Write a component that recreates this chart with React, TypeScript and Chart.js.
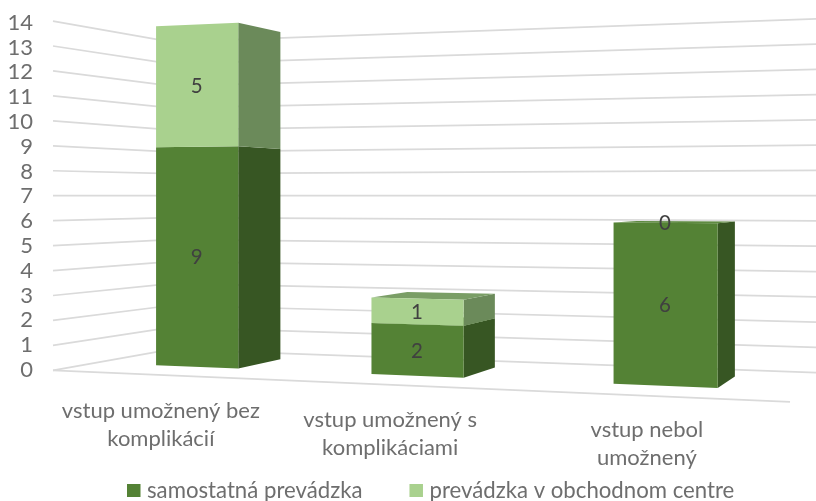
import React, { useEffect, useRef } from "react";
import { Chart, registerables } from "chart.js";

Chart.register(...registerables);

const categories: string[][] = [
  ["vstup umožnený bez", "komplikácií"],
  ["vstup umožnený s", "komplikáciami"],
  ["vstup nebol", "umožnený"],
];
const seriesNames = ["samostatná prevádzka", "prevádzka v obchodnom centre"];
const samostatna = [9, 2, 6];
const obchodneCentrum = [5, 1, 0];

const FONT = "Lato";
const TICK = "#6e6e6e";
const LABEL = "#404040";
const GRID = "#dadada";
const FACES = [
  { front: "#548235", side: "#375623", top: "#5f8a42" },
  { front: "#A9D18E", side: "#6B8A5A", top: "#7A9E66" },
];

// perspective of the Excel 3-D plot: floor corners as (x, scale in px per unit)
const HORIZON_Y = 195.7;
const HORIZON_V = 7;
const FL = [53, 24.95], FR = [790, 29.47], BR = [820, 25.29], BL = [171, 21.96];
const D_FRONT = 0.33, D_BACK = 0.745;
const LABEL_OFFSET = [[3, 36], [3, 35], [0, 34]];
const LINE_STEP = 28.5;

const dx1 = FR[0] - BR[0], dx2 = BL[0] - BR[0], sx = FL[0] - FR[0] + BR[0] - BL[0];
const dy1 = FR[1] - BR[1], dy2 = BL[1] - BR[1], sy = FL[1] - FR[1] + BR[1] - BL[1];
const det = dx1 * dy2 - dx2 * dy1;
const g = (sx * dy2 - dx2 * sy) / det;
const h = (dx1 * sy - sx * dy1) / det;
const A = FR[0] - FL[0] + g * FR[0], B = BL[0] - FL[0] + h * BL[0], C = FL[0];
const D = FR[1] - FL[1] + g * FR[1], E = BL[1] - FL[1] + h * BL[1], F = FL[1];

function project(u: number, d: number, v: number): [number, number] {
  const w = g * u + h * d + 1;
  const x = (A * u + B * d + C) / w;
  const s = (D * u + E * d + F) / w;
  return [x, HORIZON_Y + (HORIZON_V - v) * s];
}

function poly(ctx: CanvasRenderingContext2D, pts: [number, number][], fill: string) {
  ctx.beginPath();
  pts.forEach((p, i) => (i ? ctx.lineTo(p[0], p[1]) : ctx.moveTo(p[0], p[1])));
  ctx.closePath();
  ctx.fillStyle = fill;
  ctx.fill();
}

function line(ctx: CanvasRenderingContext2D, a: [number, number], b: [number, number]) {
  ctx.beginPath();
  ctx.moveTo(a[0], a[1]);
  ctx.lineTo(b[0], b[1]);
  ctx.stroke();
}

const perspectivePlugin = {
  id: "perspective",
  beforeDatasetsDraw(chart: any) {
    const { ctx, chartArea, scales } = chart;
    const yScale = scales.y;
    const xScale = scales.x;
    const toU = (px: number) => (px - chartArea.left) / chartArea.width;

    ctx.save();
    // walls
    ctx.strokeStyle = GRID;
    ctx.lineWidth = 1.75;
    yScale.ticks.forEach((t: any) => {
      line(ctx, project(0, 0, t.value), project(0, 1, t.value));
      line(ctx, project(0, 1, t.value), project(1, 1, t.value));
    });
    line(ctx, project(0, 0, 0), project(1, 0, 0));

    // boxes
    const labels: { text: string; x: number; y: number }[] = [];
    chart.data.datasets.forEach((ds: any, di: number) => {
      const meta = chart.getDatasetMeta(di);
      const face = FACES[di];
      meta.data.forEach((el: any, i: number) => {
        const v0 = yScale.getValueForPixel(el.base);
        const v1 = yScale.getValueForPixel(el.y);
        const u0 = toU(el.x - el.width / 2);
        const u1 = toU(el.x + el.width / 2);
        const uc = toU(el.x);
        if (v1 - v0 > 0.001) {
          poly(ctx, [project(u1, D_FRONT, v0), project(u1, D_BACK, v0), project(u1, D_BACK, v1), project(u1, D_FRONT, v1)], face.side);
          if (v1 < HORIZON_V) {
            poly(ctx, [project(u0, D_FRONT, v1), project(u1, D_FRONT, v1), project(u1, D_BACK, v1), project(u0, D_BACK, v1)], face.top);
          }
          poly(ctx, [project(u0, D_FRONT, v0), project(u1, D_FRONT, v0), project(u1, D_FRONT, v1), project(u0, D_FRONT, v1)], face.front);
        }
        const c = project(uc, D_FRONT, (v0 + v1) / 2);
        labels.push({ text: String(ds.data[i]), x: c[0], y: c[1] });
      });
    });

    // data labels
    ctx.fillStyle = LABEL;
    ctx.font = `20.5px ${FONT}`;
    ctx.textAlign = "center";
    ctx.textBaseline = "middle";
    labels.forEach((l) => ctx.fillText(l.text, l.x, l.y + 1));

    // category labels follow the tilted floor edge
    ctx.fillStyle = TICK;
    ctx.font = `22px ${FONT}`;
    xScale.getLabels().forEach((lab: string[], i: number) => {
      const u = toU(xScale.getPixelForValue(i));
      const p = project(u, 0, 0);
      lab.forEach((ln: string, k: number) => {
        ctx.fillText(ln, p[0] + LABEL_OFFSET[i][0], p[1] + LABEL_OFFSET[i][1] + k * LINE_STEP);
      });
    });

    // legend row
    ctx.font = `22.2px ${FONT}`;
    ctx.textAlign = "left";
    let lx = 127;
    chart.data.datasets.forEach((ds: any) => {
      ctx.fillStyle = ds.backgroundColor;
      ctx.fillRect(lx, 484, 13.5, 13);
      ctx.fillStyle = TICK;
      ctx.fillText(ds.label, lx + 20, 490.5);
      lx += 20 + ctx.measureText(ds.label).width + 47;
    });
    ctx.restore();
    return false;
  },
};

export default function App() {
  const ref = useRef<HTMLCanvasElement | null>(null);
  useEffect(() => {
    const chart = new Chart(ref.current as HTMLCanvasElement, {
      type: "bar",
      data: {
        labels: categories as any,
        datasets: [
          { label: seriesNames[0], data: samostatna, backgroundColor: FACES[0].front },
          { label: seriesNames[1], data: obchodneCentrum, backgroundColor: FACES[1].front },
        ],
      },
      options: {
        responsive: false,
        animation: false,
        layout: { padding: { left: 3, right: 26, top: 22.7, bottom: 0 } },
        datasets: { bar: { categoryPercentage: 1, barPercentage: 0.395 } },
        scales: {
          x: {
            stacked: true,
            grid: { display: false },
            border: { display: false },
            ticks: { display: false },
            afterFit: (s: any) => { s.height = 131; },
          },
          y: {
            stacked: true,
            min: 0,
            max: 14,
            grid: { display: false, drawTicks: false },
            border: { display: false },
            ticks: {
              stepSize: 1,
              autoSkip: false,
              color: TICK,
              padding: 1,
              font: { family: FONT, size: 22 },
            },
            afterFit: (s: any) => { s.width = 31; },
          },
        },
        plugins: {
          tooltip: { enabled: false },
          legend: { display: false },
        },
      },
      plugins: [perspectivePlugin],
    } as any);
    return () => chart.destroy();
  }, []);
  return (
    <div style={{ position: "fixed", left: 0, top: 0, width: 816, height: 501, background: "#fff" }}>
      <canvas ref={ref} width={816} height={501} style={{ display: "block" }} />
    </div>
  );
}
